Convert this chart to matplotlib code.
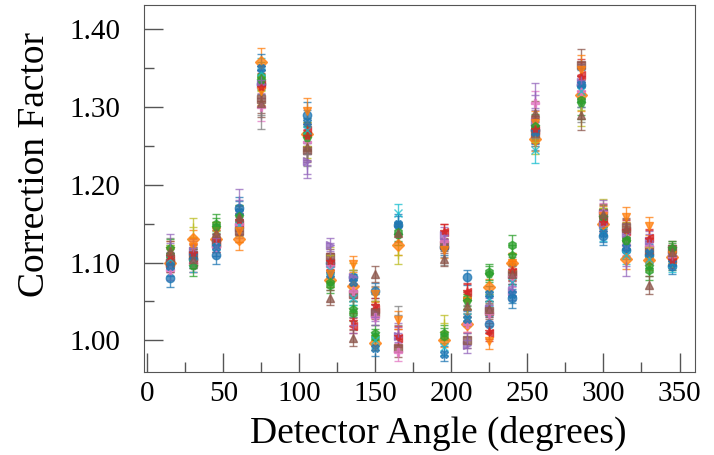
import numpy as np
import matplotlib
matplotlib.use("Agg")
import matplotlib.pyplot as plt
from matplotlib.ticker import MultipleLocator, FormatStrFormatter

# ---------------- DATA ----------------

angles = [15, 30, 45, 60, 75, 105, 120, 135, 150, 165,
          195, 210, 225, 240, 255, 285, 300, 315, 330, 345]

# one uncertainty per angle (shared by all series)
errors = [0.012, 0.012, 0.012, 0.014, 0.018, 0.016, 0.010, 0.010, 0.010, 0.012,
          0.010, 0.010, 0.010, 0.012, 0.016, 0.020, 0.012, 0.012, 0.012, 0.010]

s00 = [1.080, 1.105, 1.110, 1.170, 1.330, 1.290, 1.100, 1.081, 1.064, 1.148,
       1.120, 1.081, 1.021, 1.054, 1.270, 1.328, 1.134, 1.116, 1.110, 1.095]
s01 = [1.100, 1.130, 1.130, 1.130, 1.358, 1.265, 1.078, 1.070, 0.997, 1.122,
       1.001, 1.021, 1.069, 1.100, 1.259, 1.315, 1.150, 1.104, 1.103, 1.107]
s02 = [1.110, 1.105, 1.150, 1.150, 1.340, 1.265, 1.071, 1.035, 1.004, 1.139,
       1.006, 1.054, 1.088, 1.123, 1.274, 1.309, 1.157, 1.130, 1.090, 1.115]
s03 = [1.105, 1.100, 1.125, 1.150, 1.330, 1.270, 1.100, 1.019, 1.040, 1.003,
       1.139, 1.062, 1.009, 1.088, 1.270, 1.341, 1.155, 1.140, 1.131, 1.105]
s04 = [1.100, 1.115, 1.125, 1.145, 1.330, 1.230, 1.122, 1.081, 1.035, 1.005,
       1.135, 0.994, 1.040, 1.064, 1.280, 1.332, 1.150, 1.138, 1.128, 1.110]
s05 = [1.100, 1.110, 1.125, 1.140, 1.310, 1.245, 1.107, 1.060, 1.037, 0.990,
       1.122, 1.000, 1.038, 1.085, 1.266, 1.354, 1.163, 1.145, 1.116, 1.117]
s06 = [1.090, 1.100, 1.120, 1.150, 1.300, 1.255, 1.096, 1.064, 1.030, 0.985,
       1.127, 1.021, 1.035, 1.081, 1.305, 1.320, 1.165, 1.122, 1.121, 1.108]
s07 = [1.120, 1.120, 1.135, 1.155, 1.290, 1.240, 1.100, 1.050, 1.060, 1.032,
       1.107, 1.035, 1.047, 1.095, 1.260, 1.300, 1.155, 1.125, 1.115, 1.112]
s08 = [1.110, 1.145, 1.140, 1.160, 1.320, 1.250, 1.110, 1.090, 1.050, 1.110,
       1.022, 1.040, 1.060, 1.090, 1.255, 1.296, 1.170, 1.140, 1.120, 1.100]
s09 = [1.105, 1.100, 1.128, 1.148, 1.345, 1.270, 1.090, 1.055, 1.000, 1.163,
       0.991, 1.030, 1.054, 1.075, 1.244, 1.320, 1.140, 1.110, 1.105, 1.098]
s10 = [1.095, 1.108, 1.120, 1.165, 1.350, 1.280, 1.085, 1.075, 0.990, 1.150,
       0.983, 1.028, 1.060, 1.060, 1.268, 1.330, 1.138, 1.120, 1.112, 1.100]
s11 = [1.115, 1.120, 1.140, 1.140, 1.320, 1.295, 1.085, 1.098, 1.059, 1.026,
       1.116, 1.050, 0.999, 1.100, 1.279, 1.347, 1.160, 1.159, 1.147, 1.110]
s12 = [1.118, 1.095, 1.145, 1.160, 1.335, 1.260, 1.075, 1.040, 1.010, 1.135,
       1.010, 1.050, 1.085, 1.110, 1.275, 1.305, 1.158, 1.128, 1.095, 1.118]
s13 = [1.108, 1.112, 1.130, 1.155, 1.325, 1.262, 1.102, 1.025, 1.045, 1.006,
       1.140, 1.064, 1.012, 1.090, 1.272, 1.338, 1.152, 1.142, 1.130, 1.103]
s14 = [1.125, 1.118, 1.132, 1.180, 1.335, 1.225, 1.115, 1.020, 1.030, 1.010,
       1.130, 1.000, 1.045, 1.070, 1.315, 1.335, 1.168, 1.095, 1.125, 1.108]
s15 = [1.115, 1.105, 1.138, 1.158, 1.305, 1.248, 1.055, 1.003, 1.085, 1.138,
       1.105, 1.044, 1.040, 1.085, 1.292, 1.290, 1.162, 1.144, 1.071, 1.113]

series = [s00, s01, s02, s03, s04, s05, s06, s07,
          s08, s09, s10, s11, s12, s13, s14, s15]

markers = ["o", "D", "h", "<", ">", "s", "P", "+",
           "+", "x", "X", "v", "p", "*", "+", "^"]

# ---------------- PLOT ----------------

plt.rcParams["font.family"] = ["Liberation Serif", "DejaVu Serif"]

fig = plt.figure(figsize=(7.14, 4.55), dpi=100)
ax = fig.add_axes([0.202, 0.182, 0.771, 0.807])

colors = plt.rcParams["axes.prop_cycle"].by_key()["color"]

for i, vals in enumerate(series):
    ax.errorbar(
        angles,
        vals,
        yerr=errors,
        fmt=markers[i],
        color=colors[i % len(colors)],
        markersize=6,
        elinewidth=1,
        capsize=3,
        alpha=0.75,
        linestyle="none",
    )

ax.set_xlim(-2, 360)
ax.set_ylim(0.959, 1.431)

ax.xaxis.set_major_locator(MultipleLocator(50))
ax.xaxis.set_minor_locator(MultipleLocator(25))
ax.yaxis.set_major_locator(MultipleLocator(0.1))
ax.yaxis.set_minor_locator(MultipleLocator(0.05))
ax.yaxis.set_major_formatter(FormatStrFormatter("%.2f"))

ax.tick_params(which="both", direction="in", color="#555555",
               labelsize=21, top=False, right=False)
ax.tick_params(which="major", length=14, width=1)
ax.tick_params(which="minor", length=7, width=1)
ax.tick_params(axis="y", which="major", pad=17)
ax.tick_params(axis="x", which="major", pad=6)

for sp in ax.spines.values():
    sp.set_color("#555555")

ax.set_xlabel("Detector Angle (degrees)", fontsize=27)
ax.set_ylabel("Correction Factor", fontsize=27)
ax.xaxis.set_label_coords(0.535, -0.12)
ax.yaxis.set_label_coords(-0.168, 0.565)

fig.savefig("out.png", dpi=100)
